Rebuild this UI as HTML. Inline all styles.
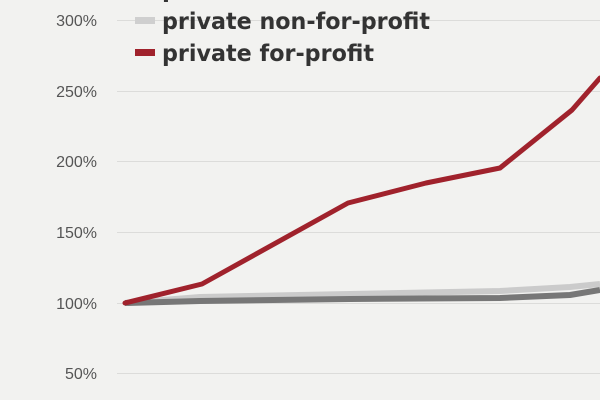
<!DOCTYPE html>
<html><head><style>
body{margin:0;background:#f2f2f0;}
svg{display:block;font-family:"Liberation Sans","DejaVu Sans",sans-serif;}
</style></head><body>
<svg width="600" height="400" viewBox="0 0 600 400">
<rect width="600" height="400" fill="#f2f2f0"/>
<g stroke="#dcdcda" stroke-width="1">
<line x1="117" y1="20.5" x2="600" y2="20.5"/>
<line x1="117" y1="91.5" x2="600" y2="91.5"/>
<line x1="117" y1="161.5" x2="600" y2="161.5"/>
<line x1="117" y1="232.5" x2="600" y2="232.5"/>
<line x1="117" y1="303.5" x2="600" y2="303.5"/>
<line x1="117" y1="373.5" x2="600" y2="373.5"/>
</g>
<g fill="#555" font-size="16" text-anchor="end">
<text x="97" y="26">300%</text>
<text x="97" y="97">250%</text>
<text x="97" y="167">200%</text>
<text x="97" y="238">150%</text>
<text x="97" y="309">100%</text>
<text x="97" y="379">50%</text>
</g>
<rect x="135" y="17" width="20" height="7" fill="#cfcfcf"/>
<rect x="135" y="49" width="20" height="7" fill="#a0222c"/>
<g fill="#333" font-size="23" font-weight="bold" style="font-family:'DejaVu Sans',sans-serif">
<text x="162" y="-3">private</text>
<text x="162" y="29" textLength="268" lengthAdjust="spacingAndGlyphs">private non-for-profit</text>
<text x="162" y="61" textLength="212" lengthAdjust="spacingAndGlyphs">private for-profit</text>
</g>
<polyline fill="none" stroke="#cbcbcb" stroke-width="6" stroke-linejoin="round" points="125,303 200,297 350,294 500,291 570,287 600,284"/>
<polyline fill="none" stroke="#777" stroke-width="6" stroke-linejoin="round" points="125,303 200,301 350,299 500,298 570,295 600,290"/>
<polyline fill="none" stroke="#a0222c" stroke-width="5" stroke-linejoin="round" stroke-linecap="round" points="125,303 202,284 348,203 426,183 500,168 572,110 600,78"/>
</svg>
</body></html>
